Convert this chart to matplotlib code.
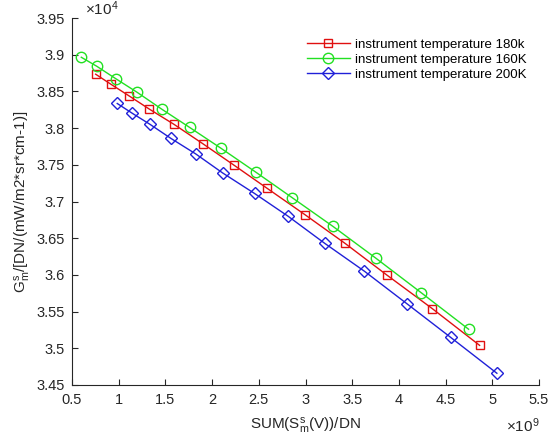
import matplotlib
matplotlib.use('Agg')
import matplotlib.pyplot as plt
from matplotlib.ticker import FuncFormatter

plt.rcParams['font.family'] = ['Liberation Sans', 'DejaVu Sans']

# x in units of 1e9 DN, y in units of 1e4
x_180 = [0.753, 0.914, 1.110, 1.327, 1.594, 1.898, 2.229, 2.589, 2.995,
         3.423, 3.869, 4.358, 4.864]
y_180 = [3.8735, 3.860, 3.844, 3.826, 3.805, 3.779, 3.750, 3.718, 3.682,
         3.643, 3.600, 3.554, 3.504]
x_160 = [0.599, 0.764, 0.967, 1.195, 1.459, 1.759, 2.090, 2.468, 2.860,
         3.295, 3.751, 4.236, 4.746]
y_160 = [3.8966, 3.8844, 3.8675, 3.849, 3.826, 3.801, 3.773, 3.740, 3.705,
         3.666, 3.623, 3.576, 3.526]
x_200 = [0.984, 1.142, 1.337, 1.559, 1.823, 2.112, 2.454, 2.813, 3.206,
         3.631, 4.083, 4.553, 5.049]
y_200 = [3.8336, 3.8205, 3.805, 3.786, 3.765, 3.739, 3.711, 3.680, 3.643,
         3.605, 3.561, 3.515, 3.466]

xticks = [0.5, 1, 1.5, 2, 2.5, 3, 3.5, 4, 4.5, 5, 5.5]
yticks = [3.45, 3.5, 3.55, 3.6, 3.65, 3.7, 3.75, 3.8, 3.85, 3.9, 3.95]

txt = '#262626'

fig = plt.figure(figsize=(5.5, 4.41), dpi=100)
ax = fig.add_axes([0.131, 0.127, 0.849, 0.832])

ax.plot(x_180, y_180, color='#e01010', lw=1, marker='s', ms=5.5, mfc='none',
        mew=1, label='instrument temperature 180k')
ax.plot(x_160, y_160, color='#22e022', lw=1, marker='o', ms=7.5, mfc='none',
        mew=1, label='instrument temperature 160K')
ax.plot(x_200, y_200, color='#2020d8', lw=1, marker='D', ms=6, mfc='none',
        mew=1, label='instrument temperature 200K')

ax.set_xlim(0.5, 5.5)
ax.set_ylim(3.45, 3.95)
ax.set_xticks(xticks)
ax.set_yticks(yticks)
fmt = FuncFormatter(lambda v, p: '%g' % v)
ax.xaxis.set_major_formatter(fmt)
ax.yaxis.set_major_formatter(fmt)

for s in ['top', 'right']:
    ax.spines[s].set_visible(False)
for s in ['left', 'bottom']:
    ax.spines[s].set_color(txt)
    ax.spines[s].set_linewidth(0.8)
ax.tick_params(direction='in', length=4, width=0.8, colors=txt,
               labelsize=10.5)
ax.tick_params(axis='x', pad=6)
ax.tick_params(axis='y', pad=5)

ax.set_xlabel('SUM($\\mathregular{S_m^s}$(V))/DN', fontsize=11, color=txt,
              labelpad=6)
ax.set_ylabel('$\\mathregular{G_m^s}$/[DN/(mW/m2*sr*cm-1)]', fontsize=11,
              color=txt, labelpad=3)

ax.text(0.027, 1.0, '$\\mathregular{\\times10^4}$', transform=ax.transAxes,
        fontsize=11, color=txt, ha='left', va='bottom')
ax.text(1.0, -0.085, '$\\mathregular{\\times10^9}$', transform=ax.transAxes,
        fontsize=11, color=txt, ha='right', va='top')

leg = ax.legend(loc='upper right', bbox_to_anchor=(0.99, 0.965), frameon=False,
                fontsize=9.5, handlelength=3.3, handletextpad=0.35,
                labelspacing=0.2, borderaxespad=0.2)
for t in leg.get_texts():
    t.set_color('#000000')

fig.savefig('out.png', dpi=100)
